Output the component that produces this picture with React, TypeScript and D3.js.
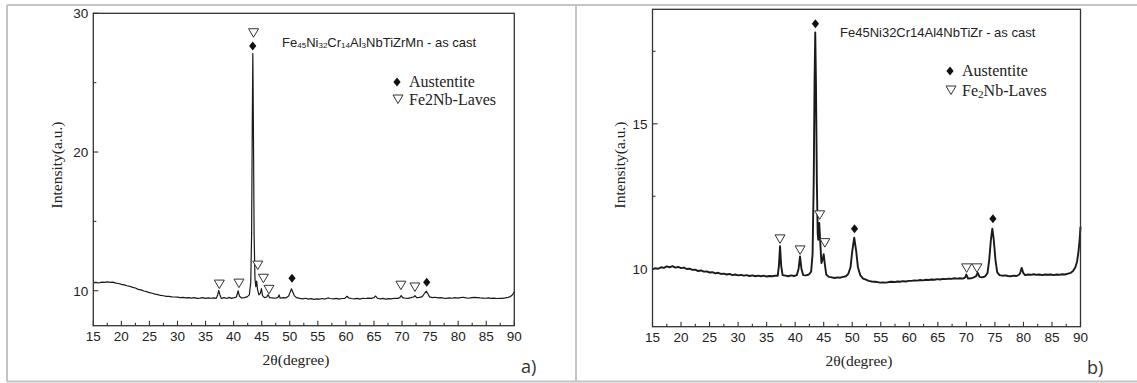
import React from 'react';
import * as d3 from 'd3';

// ---------- data ----------
const xTickValues = [15, 20, 25, 30, 35, 40, 45, 50, 55, 60, 65, 70, 75, 80, 85, 90];
const xMinorTicks = [17.5, 22.5, 27.5, 32.5, 37.5, 42.5, 47.5, 52.5, 57.5, 62.5, 67.5, 72.5, 77.5, 82.5, 87.5];
const leftYTicks = [10, 20, 30];
const leftYMinor = [15, 25];
const rightYTicks = [10, 15];
const rightYMinor = [12.5, 17.5];

// Fe45Ni32Cr14Al3NbTiZrMn (a)
const leftPattern: [number, number][] = [
  [15, 10.58], [15.5, 10.6], [16, 10.56], [16.5, 10.62], [17, 10.6], [17.5, 10.64], [18, 10.6], [18.5, 10.62],
  [19, 10.55], [19.5, 10.52], [20, 10.46], [20.5, 10.42], [21, 10.36], [21.5, 10.32], [22, 10.24], [22.5, 10.2],
  [23, 10.1], [23.5, 10.06], [24, 9.98], [24.5, 9.94], [25, 9.86], [25.5, 9.82], [26, 9.76], [26.5, 9.72],
  [27, 9.66], [27.5, 9.64], [28, 9.6], [28.5, 9.6], [29, 9.56], [29.5, 9.55], [30, 9.54], [30.5, 9.5],
  [31, 9.52], [31.5, 9.48], [32, 9.5], [32.5, 9.47], [33, 9.5], [33.5, 9.45], [34, 9.47], [34.5, 9.5],
  [35, 9.45], [35.5, 9.48], [36, 9.46], [36.5, 9.49], [36.9, 9.45], [37.15, 9.7], [37.35, 10.02], [37.55, 9.7],
  [37.8, 9.45], [38.3, 9.5], [38.8, 9.44], [39.2, 9.52], [39.6, 9.45], [40.1, 9.5], [40.5, 9.55], [40.8, 10.0],
  [41.05, 9.6], [41.4, 9.48], [41.9, 9.5], [42.4, 9.56], [42.8, 9.7], [43.05, 10.6], [43.2, 14], [43.32, 22],
  [43.42, 27.1], [43.52, 22], [43.65, 14], [43.8, 10.9], [43.95, 10.3], [44.1, 10.7], [44.25, 10.1], [44.5, 9.7],
  [44.75, 9.8], [44.95, 10.15], [45.15, 9.65], [45.5, 9.5], [45.9, 9.55], [46.15, 9.72], [46.4, 9.5], [46.9, 9.48],
  [47.5, 9.46], [47.9, 9.52], [48.1, 9.7], [48.3, 9.46], [48.8, 9.5], [49.3, 9.48], [49.8, 9.62], [50.1, 9.92],
  [50.3, 10.14], [50.5, 9.95], [50.8, 9.65], [51.2, 9.5], [51.8, 9.45], [52.3, 9.42], [52.8, 9.46], [53.3, 9.4],
  [53.8, 9.43], [54.3, 9.38], [54.8, 9.42], [55.3, 9.4], [55.8, 9.44], [56.3, 9.4], [56.8, 9.48], [57.2, 9.44],
  [57.8, 9.42], [58.3, 9.45], [58.8, 9.4], [59.3, 9.44], [59.8, 9.45], [60.2, 9.6], [60.5, 9.48], [61, 9.44],
  [61.5, 9.42], [62, 9.45], [62.5, 9.4], [63, 9.46], [63.5, 9.44], [64, 9.47], [64.5, 9.45], [65, 9.5],
  [65.3, 9.62], [65.6, 9.46], [66.1, 9.42], [66.6, 9.45], [67.1, 9.4], [67.6, 9.43], [68.1, 9.42], [68.6, 9.46],
  [69.2, 9.45], [69.6, 9.5], [69.85, 9.66], [70.1, 9.5], [70.6, 9.46], [71.1, 9.45], [71.6, 9.5], [72.05, 9.55],
  [72.3, 9.64], [72.6, 9.5], [73.1, 9.52], [73.6, 9.58], [74.0, 9.8], [74.3, 9.97], [74.55, 9.82], [74.9, 9.56],
  [75.4, 9.5], [75.9, 9.53], [76.4, 9.48], [76.9, 9.5], [77.4, 9.47], [77.9, 9.45], [78.4, 9.48], [78.9, 9.46],
  [79.4, 9.5], [79.9, 9.47], [80.4, 9.5], [80.9, 9.53], [81.4, 9.48], [81.9, 9.46], [82.4, 9.5], [82.9, 9.52],
  [83.4, 9.5], [83.9, 9.48], [84.4, 9.47], [84.9, 9.46], [85.4, 9.48], [85.9, 9.45], [86.4, 9.47], [86.9, 9.44],
  [87.4, 9.46], [87.9, 9.45], [88.4, 9.48], [88.9, 9.52], [89.3, 9.58], [89.6, 9.68], [89.85, 9.82], [90, 9.95],
];
const leftAustenite: [number, number][] = [[43.4, 27.65], [50.4, 10.9], [74.4, 10.62]];
const leftLaves: [number, number][] = [
  [43.55, 28.6], [37.45, 10.48], [40.95, 10.55], [44.3, 11.85], [45.3, 10.9], [46.3, 10.1], [69.8, 10.4], [72.3, 10.27],
];

// Fe45Ni32Cr14Al4NbTiZr (b)
const rightPattern: [number, number][] = [
  [15, 9.98], [15.5, 10.02], [16, 10.0], [16.5, 10.05], [17, 10.03], [17.5, 10.08], [18, 10.05], [18.5, 10.09],
  [19, 10.04], [19.5, 10.06], [20, 10.02], [20.5, 10.04], [21, 9.99], [21.5, 10.0], [22, 9.96], [22.5, 9.97],
  [23, 9.92], [23.5, 9.94], [24, 9.9], [24.5, 9.91], [25, 9.87], [25.5, 9.88], [26, 9.84], [26.5, 9.86],
  [27, 9.82], [27.5, 9.83], [28, 9.8], [28.5, 9.82], [29, 9.78], [29.5, 9.8], [30, 9.77], [30.5, 9.79],
  [31, 9.76], [31.5, 9.78], [32, 9.75], [32.5, 9.77], [33, 9.74], [33.5, 9.76], [34, 9.74], [34.5, 9.76],
  [35, 9.73], [35.5, 9.75], [36, 9.74], [36.5, 9.76], [36.95, 9.76], [37.15, 10.1], [37.35, 10.78], [37.55, 10.1],
  [37.8, 9.78], [38.3, 9.76], [38.8, 9.74], [39.3, 9.77], [39.8, 9.75], [40.3, 9.78], [40.6, 10.0], [40.85, 10.42],
  [41.1, 10.0], [41.4, 9.78], [41.9, 9.77], [42.4, 9.8], [42.8, 9.9], [43.05, 10.5], [43.25, 13], [43.4, 16.5],
  [43.52, 18.15], [43.64, 16.5], [43.8, 13], [43.95, 11.2], [44.05, 11.0], [44.22, 11.58], [44.4, 10.9], [44.6, 10.2],
  [44.85, 10.35], [45.0, 10.5], [45.2, 10.15], [45.45, 9.8], [45.9, 9.72], [46.4, 9.7], [46.9, 9.68], [47.4, 9.7],
  [47.9, 9.69], [48.4, 9.72], [48.9, 9.74], [49.3, 9.82], [49.7, 10.05], [50.0, 10.6], [50.35, 11.07], [50.7, 10.6],
  [51.0, 10.05], [51.4, 9.78], [51.9, 9.66], [52.4, 9.62], [52.9, 9.58], [53.4, 9.56], [53.9, 9.55], [54.4, 9.54],
  [54.9, 9.52], [55.4, 9.53], [55.9, 9.52], [56.4, 9.54], [56.9, 9.55], [57.4, 9.54], [57.9, 9.56], [58.4, 9.55],
  [58.9, 9.57], [59.4, 9.56], [59.9, 9.58], [60.4, 9.58], [60.9, 9.6], [61.4, 9.59], [61.9, 9.61], [62.4, 9.6],
  [62.9, 9.62], [63.4, 9.61], [63.9, 9.63], [64.4, 9.62], [64.9, 9.64], [65.4, 9.63], [65.9, 9.65], [66.4, 9.64],
  [66.9, 9.66], [67.4, 9.65], [67.9, 9.67], [68.4, 9.66], [68.9, 9.67], [69.4, 9.66], [69.8, 9.7], [70.0, 9.8],
  [70.3, 9.66], [70.8, 9.67], [71.3, 9.7], [71.7, 9.74], [72.0, 9.86], [72.3, 9.72], [72.8, 9.7], [73.3, 9.74],
  [73.7, 9.85], [74.0, 10.3], [74.3, 11.0], [74.55, 11.38], [74.8, 11.0], [75.1, 10.3], [75.4, 9.88], [75.8, 9.78],
  [76.3, 9.76], [76.8, 9.77], [77.3, 9.75], [77.8, 9.74], [78.3, 9.76], [78.8, 9.75], [79.3, 9.8], [79.5, 9.9],
  [79.7, 10.03], [79.95, 9.86], [80.3, 9.78], [80.8, 9.8], [81.3, 9.79], [81.8, 9.81], [82.3, 9.79], [82.8, 9.8],
  [83.3, 9.78], [83.8, 9.8], [84.3, 9.79], [84.8, 9.8], [85.3, 9.78], [85.8, 9.8], [86.3, 9.79], [86.8, 9.81],
  [87.3, 9.8], [87.8, 9.83], [88.3, 9.86], [88.7, 9.92], [89.1, 10.05], [89.4, 10.25], [89.65, 10.6], [89.85, 11.0],
  [90, 11.45],
];
const rightAustenite: [number, number][] = [[43.55, 18.45], [50.4, 11.38], [74.65, 11.72]];
const rightLaves: [number, number][] = [
  [37.35, 11.03], [40.86, 10.65], [44.3, 11.86], [45.2, 10.9], [70.05, 10.03], [71.85, 10.03],
];

// ---------- drawing ----------
const SANS = '"Liberation Sans", Arial, sans-serif';
const SERIF = '"Liberation Serif", "Times New Roman", serif';

type Part = [string, boolean];

const leftTitle: Part[] = [
  ['Fe', false], ['45', true], ['Ni', false], ['32', true], ['Cr', false], ['14', true],
  ['Al', false], ['3', true], ['NbTiZrMn - as cast', false],
];
const rightTitle: Part[] = [['Fe45Ni32Cr14Al4NbTiZr - as cast', false]];
const leftLavesLabel: Part[] = [['Fe2Nb-Laves', false]];
const rightLavesLabel: Part[] = [['Fe', false], ['2', true], ['Nb-Laves', false]];

interface PanelCfg {
  x0: number; x1: number; y0: number; y1: number;
  yDomain: [number, number];
  yTicks: number[]; yMinor: number[];
  pattern: [number, number][];
  austenite: [number, number][];
  laves: [number, number][];
  lineWidth: number;
  title: Part[]; titleX: number; titleY: number;
  legendX: number; legendY: number; legendGap: number;
  lavesLabel: Part[];
  xTitleX: number; xTitleY: number;
  yTitleX: number; yTitleY: number;
  tag: string; tagX: number; tagY: number;
}

function PartsText({ parts, x, y, size, family, subScale }: { parts: Part[]; x: number; y: number; size: number; family: string; subScale: number }) {
  return (
    <text x={x} y={y} fontFamily={family} fontSize={size} fill="#222">
      {parts.map(([t, sub], i) =>
        sub ? (
          <tspan key={i} fontSize={size * subScale} dy={1.5}>{t}</tspan>
        ) : (
          <tspan key={i} dy={i > 0 && parts[i - 1][1] ? -1.5 : 0}>{t}</tspan>
        )
      )}
    </text>
  );
}

const diamondPath = 'M0,-4.5L3.6,0L0,4.5L-3.6,0Z';
const lavesPath = 'M-5,-4L5,-4L0,4.5Z';

function Panel({ c }: { c: PanelCfg }) {
  const x = d3.scaleLinear().domain([15, 90]).range([c.x0, c.x1]);
  const y = d3.scaleLinear().domain(c.yDomain).range([c.y1, c.y0]);
  const line = d3.line<[number, number]>().x(d => x(d[0])).y(d => y(d[1]));
  const axisColor = '#333';
  return (
    <g>
      <path d={line(c.pattern) || ''} fill="none" stroke="#1a1a1a" strokeWidth={c.lineWidth} strokeLinejoin="round" />
      <rect x={c.x0} y={c.y0} width={c.x1 - c.x0} height={c.y1 - c.y0} fill="none" stroke={axisColor} strokeWidth={1.3} />
      {xTickValues.map(v => (
        <g key={'xt' + v}>
          <line x1={x(v)} x2={x(v)} y1={c.y1} y2={c.y1 - 5} stroke={axisColor} strokeWidth={1.1} />
          <text x={x(v)} y={c.y1 + 15} textAnchor="middle" fontFamily={SANS} fontSize={13.5} fill="#222">{v}</text>
        </g>
      ))}
      {xMinorTicks.map(v => (
        <line key={'xm' + v} x1={x(v)} x2={x(v)} y1={c.y1} y2={c.y1 - 3} stroke={axisColor} strokeWidth={1.1} />
      ))}
      {c.yTicks.map(v => (
        <g key={'yt' + v}>
          <line x1={c.x0} x2={c.x0 + 5} y1={y(v)} y2={y(v)} stroke={axisColor} strokeWidth={1.1} />
          <text x={c.x0 - 5} y={y(v) + 5} textAnchor="end" fontFamily={SANS} fontSize={13.5} fill="#222">{v}</text>
        </g>
      ))}
      {c.yMinor.map(v => (
        <line key={'ym' + v} x1={c.x0} x2={c.x0 + 3} y1={y(v)} y2={y(v)} stroke={axisColor} strokeWidth={1.1} />
      ))}
      {c.austenite.map((d, i) => (
        <path key={'a' + i} d={diamondPath} transform={`translate(${x(d[0])},${y(d[1])})`} fill="#111" />
      ))}
      {c.laves.map((d, i) => (
        <path key={'l' + i} d={lavesPath} transform={`translate(${x(d[0])},${y(d[1])})`} fill="#fff" stroke="#333" strokeWidth={1} />
      ))}
      <PartsText parts={c.title} x={c.titleX} y={c.titleY} size={13} family={SANS} subScale={0.62} />
      <path d={diamondPath} transform={`translate(${c.legendX - 12},${c.legendY - 5})`} fill="#111" />
      <text x={c.legendX} y={c.legendY} fontFamily={SERIF} fontSize={16} fill="#222">Austentite</text>
      <path d={lavesPath} transform={`translate(${c.legendX - 11},${c.legendY + c.legendGap - 6})`} fill="#fff" stroke="#333" strokeWidth={1} />
      <PartsText parts={c.lavesLabel} x={c.legendX} y={c.legendY + c.legendGap} size={16} family={SERIF} subScale={0.7} />
      <text x={c.xTitleX} y={c.xTitleY} textAnchor="middle" fontFamily={SERIF} fontSize={15.5} fill="#222">2θ(degree)</text>
      <text transform={`translate(${c.yTitleX},${c.yTitleY}) rotate(-90)`} textAnchor="middle" fontFamily={SERIF} fontSize={15.5} fill="#222">Intensity(a.u.)</text>
      <text x={c.tagX} y={c.tagY} fontFamily='"Open Sans", "Noto Sans", sans-serif' fontSize={18} fill="#333">{c.tag}</text>
    </g>
  );
}

const leftCfg: PanelCfg = {
  x0: 93.3, x1: 514.3, y0: 13.3, y1: 325.7,
  yDomain: [7.48, 30], yTicks: leftYTicks, yMinor: leftYMinor,
  pattern: leftPattern, austenite: leftAustenite, laves: leftLaves, lineWidth: 1.2,
  title: leftTitle, titleX: 282, titleY: 46.5,
  legendX: 409, legendY: 87, legendGap: 18, lavesLabel: leftLavesLabel,
  xTitleX: 296, xTitleY: 365,
  yTitleX: 62, yTitleY: 165,
  tag: 'a)', tagX: 521, tagY: 373,
};

const rightCfg: PanelCfg = {
  x0: 652.5, x1: 1080.5, y0: 9.3, y1: 326.7,
  yDomain: [8.0, 18.95], yTicks: rightYTicks, yMinor: rightYMinor,
  pattern: rightPattern, austenite: rightAustenite, laves: rightLaves, lineWidth: 1.9,
  title: rightTitle, titleX: 840, titleY: 37,
  legendX: 962, legendY: 76, legendGap: 20, lavesLabel: rightLavesLabel,
  xTitleX: 859, xTitleY: 366,
  yTitleX: 625, yTitleY: 165,
  tag: 'b)', tagX: 1087, tagY: 374,
};

export default function App() {
  return (
    <svg width={1137} height={383} style={{ position: 'absolute', left: 0, top: 0, background: '#fff' }}>
      <rect x={0} y={0} width={1137} height={383} fill="#fff" />
      <g stroke="#c4c4c4" strokeWidth={2} fill="none">
        <line x1={7} x2={1137} y1={5} y2={5} />
        <line x1={7} x2={7} y1={5} y2={382} />
        <line x1={7} x2={1137} y1={381.5} y2={381.5} />
        <line x1={576} x2={576} y1={5} y2={382} />
      </g>
      <Panel c={leftCfg} />
      <Panel c={rightCfg} />
    </svg>
  );
}
